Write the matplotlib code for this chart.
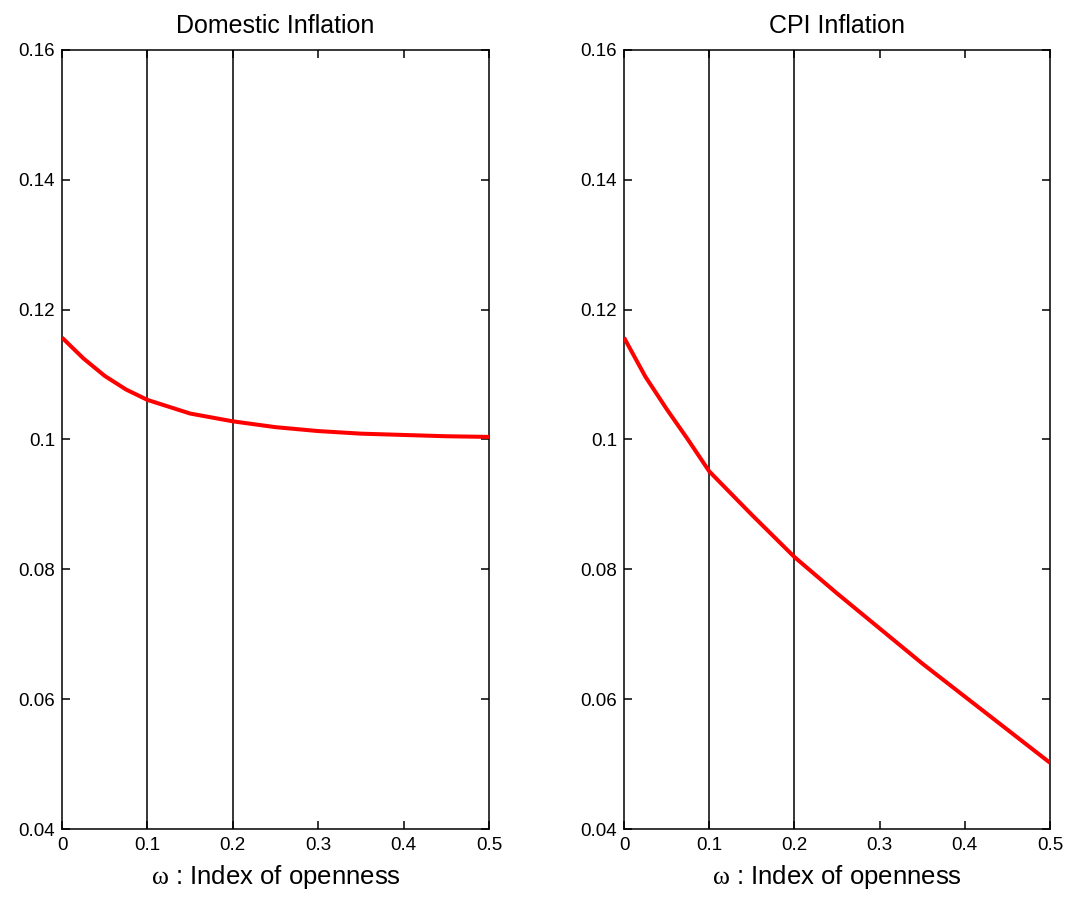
import matplotlib
matplotlib.use("Agg")
import matplotlib.pyplot as plt
from matplotlib.ticker import FixedLocator, FuncFormatter

plt.rcParams['font.family'] = ['Liberation Sans', 'DejaVu Sans']
plt.rcParams['mathtext.fontset'] = 'custom'
plt.rcParams['mathtext.rm'] = 'Liberation Serif'
plt.rcParams['mathtext.it'] = 'Liberation Serif'

# Openness index grid and the two inflation responses
omega = [0.0, 0.025, 0.05, 0.075, 0.1, 0.15, 0.2, 0.25, 0.3, 0.35, 0.4, 0.45, 0.5]
domestic_inflation = [0.1157, 0.1125, 0.1098, 0.1077, 0.1061, 0.1040, 0.1028,
                      0.1019, 0.1013, 0.1009, 0.1007, 0.1005, 0.1004]
cpi_inflation = [0.1157, 0.1097, 0.1047, 0.1000, 0.0951, 0.0884, 0.0819,
                 0.0763, 0.0709, 0.0655, 0.0604, 0.0553, 0.0502]

titles = ["Domestic Inflation", "CPI Inflation"]
series = [domestic_inflation, cpi_inflation]
marker_lines = [0.1, 0.2]
x_ticks = [0, 0.1, 0.2, 0.3, 0.4, 0.5]
y_ticks = [0.04, 0.06, 0.08, 0.10, 0.12, 0.14, 0.16]
xlabel = r"$\omega$ : Index of openness"

fig = plt.figure(figsize=(10.73, 8.97), dpi=100)
W, H = 1073, 897
boxes = [(62, 489), (624, 1050)]
top_px, bot_px = 50, 829


def fmt(v, _):
    return "%g" % round(v, 4)


for (x0, x1), title, ys in zip(boxes, titles, series):
    ax = fig.add_axes([x0 / W, 1 - bot_px / H, (x1 - x0) / W, (bot_px - top_px) / H])
    for xv in marker_lines:
        ax.axvline(xv, color='black', lw=1.1, zorder=1)
    ax.plot(omega, ys, color='#ff0000', lw=2.9, zorder=3, solid_capstyle='butt')
    ax.set_xlim(0, 0.5)
    ax.set_ylim(0.04, 0.16)
    ax.xaxis.set_major_locator(FixedLocator(x_ticks))
    ax.yaxis.set_major_locator(FixedLocator(y_ticks))
    ax.xaxis.set_major_formatter(FuncFormatter(fmt))
    ax.yaxis.set_major_formatter(FuncFormatter(fmt))
    ax.tick_params(direction='in', length=6, width=1.1, top=True, right=True,
                   labelsize=13.5, colors='black')
    ax.tick_params(axis='x', pad=6)
    ax.tick_params(axis='y', pad=5)
    for sp in ax.spines.values():
        sp.set_linewidth(1.1)
    ax.set_title(title, fontsize=18, pad=12)
    ax.set_xlabel(xlabel, fontsize=18.5, labelpad=6)

fig.savefig("out.png", dpi=100)
